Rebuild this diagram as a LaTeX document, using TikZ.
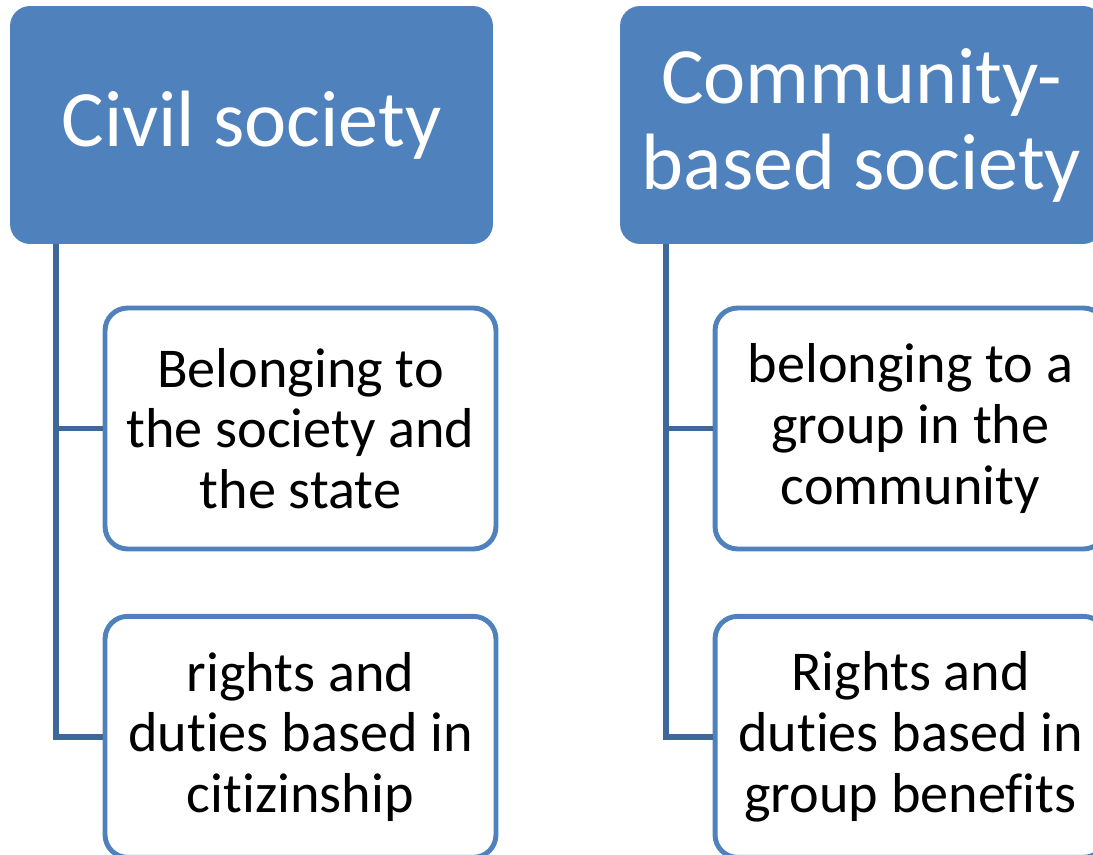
\documentclass[tikz,border=0pt]{standalone}
\usepackage{fontspec}
\setmainfont{Carlito}[Ligatures=NoCommon]
\usepackage{tikz}
\usetikzlibrary{positioning}
\definecolor{Hfill}{RGB}{79, 129, 189}
\definecolor{Hline}{RGB}{62, 104, 153}
\tikzset{
    hbox/.style={
        rectangle, rounded corners=0.4cm, fill=Hfill, draw=none,
        text=white, minimum width=9.66cm, minimum height=4.76cm,
        align=center, font=\fontsize{45.5}{49}\selectfont, inner sep=0pt
    },
    cbox/.style={
        rectangle, rounded corners=0.45cm, draw=Hfill, line width=2.8pt,
        fill=white, text=black, minimum width=7.82cm, minimum height=4.82cm,
        align=center, font=\fontsize{32}{34.5}\selectfont, inner sep=0pt
    },
    conn/.style={line width=3.3pt, Hline},
}

\begin{document}
\begin{tikzpicture}[x=0.02cm, y=-0.02cm]

    \useasboundingbox (0,0) rectangle (1093,855);
    \clip (0,0) rectangle (1093,855);

    % ── 上层：两个标题 ────────────────────────────
    \node [hbox] (hdL) at (251.5,125) {Civil society};
    \node [hbox] (hdR) at (861.5,125) {Community-\\based society};

    % ── 下层：说明框 ──────────────────────────────
    \node [cbox] (chL1) at (300.5,428.5)
        {Belonging to\\the society and\\the state};
    \node [cbox, below=1.25cm of chL1] (chL2)
        {rights and\\duties based in\\citizinship};

    \node [cbox] (chR1) at (910.5,428.5)
        {belonging to a\\group in the\\community};
    \node [cbox, below=1.25cm of chR1] (chR2)
        {Rights and\\duties based in\\group benefits};

    % ── 连接线 ────────────────────────────────────
    \coordinate (trL) at (hdL.south west -| 56,0);
    \coordinate (trR) at (hdR.south west -| 666,0);

    \draw [conn] (trL) |- (chL2.west);
    \draw [conn] (trL |- chL1.west) -- (chL1.west);
    \draw [conn] (trR) |- (chR2.west);
    \draw [conn] (trR |- chR1.west) -- (chR1.west);

\end{tikzpicture}
\end{document}
